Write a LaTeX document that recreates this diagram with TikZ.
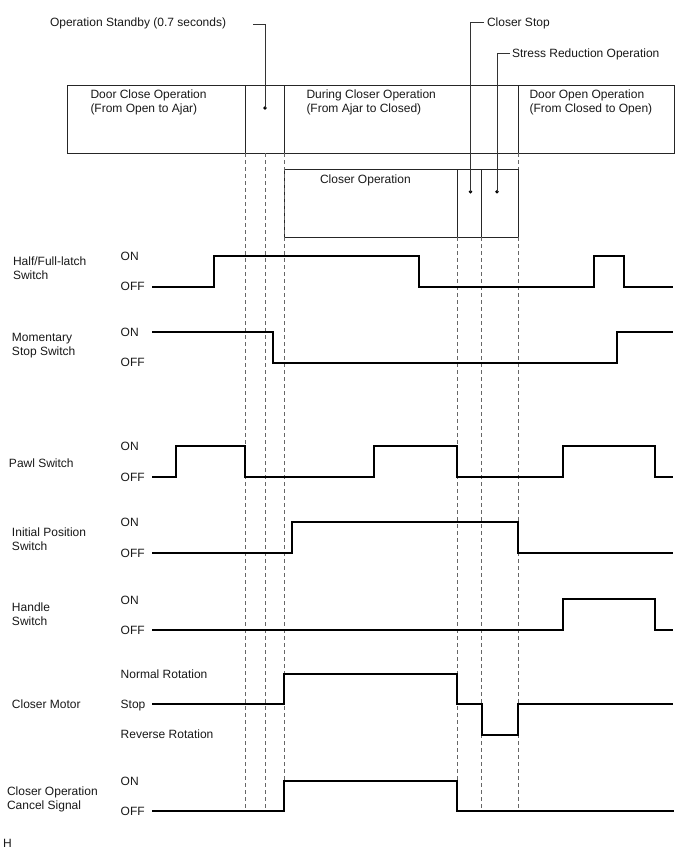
\documentclass[tikz,border=0pt]{standalone}
\usepackage{fontspec}
\setmainfont{Liberation Sans}
\begin{document}
\begin{tikzpicture}[x=1pt,y=-1pt,
  every node/.style={inner sep=0pt,outer sep=0pt,font=\fontsize{12}{14}\selectfont,text=black!90},
  lbl/.style={anchor=west,align=left},
  lvl/.style={anchor=west,text height=8.6pt,text depth=0pt},
  boxln/.style={draw=black!85,line width=1pt},
  sig/.style={draw=black,line width=1.9pt,line join=miter},
  guide/.style={draw=black!60,line width=0.7pt,dash pattern=on 4pt off 3pt},
  lead/.style={draw=black!80,line width=0.9pt},
  dotm/.style={fill=black,circle,minimum size=3.8pt,inner sep=0pt}]
\useasboundingbox (0,0) rectangle (688,852);
\fill[white] (0,0) rectangle (688,852);

% ---- top phase boxes
\draw[boxln] (67,85) rectangle (674,153);
\draw[boxln] (245,85) -- (245,153);
\draw[boxln] (284,85) -- (284,153);
\draw[boxln] (518,85) -- (518,153);
\node[lbl] (dco) at (90.5,102) {Door Close Operation\\(From Open to Ajar)};
\node[lbl] (dcl) at (306.5,102) {During Closer Operation\\(From Ajar to Closed)};
\node[lbl] (doo) at (529.5,102) {Door Open Operation\\(From Closed to Open)};

% ---- closer operation box
\draw[boxln] (284,169) rectangle (518,237);
\draw[boxln] (457.3,169) -- (457.3,237);
\draw[boxln] (481.7,169) -- (481.7,237);
\node[lvl] (cop) at (320,179) {Closer Operation};

% ---- guides (dashed)
\foreach \x in {245,265,284}{\draw[guide] (\x,153) -- (\x,810);}
\foreach \x in {457.3,481.7}{\draw[guide] (\x,237) -- (\x,810);}
\draw[guide] (518,153) -- (518,169);
\draw[guide] (518,237) -- (518,810);

% ---- leaders and their labels
\node[dotm] (d1) at (265,108) {};
\node[dotm] (d2) at (470.5,191.7) {};
\node[dotm] (d3) at (497,191.7) {};
\node[lvl] (ops) at (50,22) {Operation Standby (0.7 seconds)};
\node[lvl] (cst) at (487,22.5) {Closer Stop};
\node[lvl] (srd) at (512,53) {Stress Reduction Operation};
\coordinate (l1) at (253,24);
\coordinate (l2) at (484,22.7);
\coordinate (l3) at (509.7,53);
\draw[lead] (l1) -| (d1.center);
\draw[lead] (l2) -| (d2.center);
\draw[lead] (l3) -| (d3.center);

% ---- signal names
\node[lbl] (n1) at (13,268) {Half/Full-latch\\Switch};
\node[lbl] (n2) at (12,345.5) {Momentary\\Stop Switch};
\node[lvl] (n3) at (9,463) {Pawl Switch};
\node[lbl] (n4) at (12,539) {Initial Position\\Switch};
\node[lbl] (n5) at (12,614) {Handle\\Switch};
\node[lvl] (n6) at (12,704) {Closer Motor};
\node[lbl] (n7) at (7,799.5) {Closer Operation\\Cancel Signal};
\node[lvl] (hh) at (3,843) {H};

% ---- levels
\node[lvl] (a1) at (120.7,256) {ON};
\node[lvl] (b1) at (120.7,286) {OFF};
\node[lvl] (a2) at (120.7,332) {ON};
\node[lvl] (b2) at (120.7,362.5) {OFF};
\node[lvl] (a3) at (120.7,446) {ON};
\node[lvl] (b3) at (120.7,477) {OFF};
\node[lvl] (a4) at (120.7,522) {ON};
\node[lvl] (b4) at (120.7,553) {OFF};
\node[lvl] (a5) at (120.7,600.5) {ON};
\node[lvl] (b5) at (120.7,630) {OFF};
\node[lvl] (m1) at (120.7,674.5) {Normal Rotation};
\node[lvl] (m2) at (120.7,704) {Stop};
\node[lvl] (m3) at (120.7,733.7) {Reverse Rotation};
\node[lvl] (a7) at (120.7,781) {ON};
\node[lvl] (b7) at (120.7,811) {OFF};

% ---- waveforms
\draw[sig] (152,287) -- (214,287) -- (214,256) -- (419,256) -- (419,287) -- (594,287) -- (594,256) -- (624,256) -- (624,287) -- (673,287);
\draw[sig] (152,332) -- (273,332) -- (273,363) -- (617,363) -- (617,332) -- (673,332);
\draw[sig] (152,477) -- (176,477) -- (176,446) -- (245,446) -- (245,477) -- (374,477) -- (374,446) -- (457.3,446) -- (457.3,477) -- (563,477) -- (563,446) -- (655,446) -- (655,477) -- (673,477);
\draw[sig] (152,553) -- (292,553) -- (292,522) -- (518,522) -- (518,553) -- (673,553);
\draw[sig] (152,630) -- (563,630) -- (563,599) -- (655,599) -- (655,630) -- (673,630);
\draw[sig] (152,704) -- (284,704) -- (284,674) -- (457.3,674) -- (457.3,704) -- (481.7,704) -- (481.7,735) -- (518,735) -- (518,704) -- (673,704);
\draw[sig] (152,811) -- (284,811) -- (284,781) -- (457.3,781) -- (457.3,811) -- (674,811);
\end{tikzpicture}
\end{document}
